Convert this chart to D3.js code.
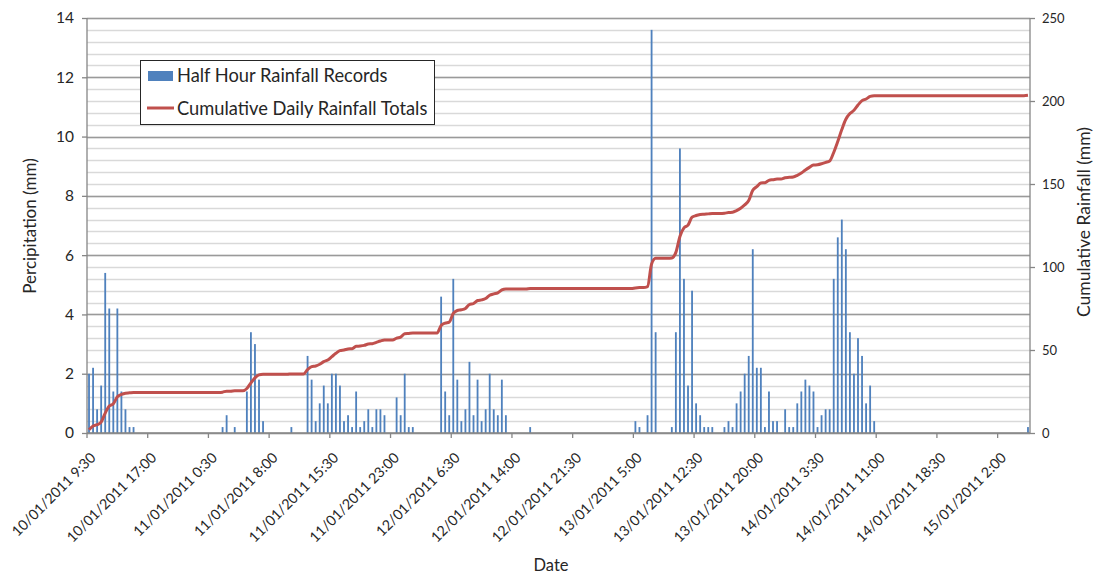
<!DOCTYPE html>
<html><head><meta charset="utf-8">
<script src="https://cdn.jsdelivr.net/npm/d3@7"></script>
<style>
html,body{margin:0;padding:0;background:#fff;}
svg{display:block;font-family:Lato,"Open Sans",sans-serif;}
</style></head><body>
<svg id="chart" width="1094" height="574"></svg>
<script>
// Half-hour rainfall records (mm), one per half hour from 10/01/2011 9:30
const rainfall = [
  2.0,2.2,0.8,1.6,5.4,4.2,1.4,4.2,1.4,0.8,0.2,0.2,0,0,0,
  0,0,0,0,0,0,0,0,0,0,0,0,0,0,0,
  0,0,0,0.2,0.6,0,0.2,0,0,1.4,3.4,3.0,1.8,0.4,0,
  0,0,0,0,0,0.2,0,0,0,2.6,1.8,0.4,1.0,1.6,1.0,
  2.0,2.0,1.6,0.4,0.6,0.2,1.4,0.2,0.4,0.8,0.2,0.8,0.8,0.6,0,
  0,1.2,0.6,2.0,0.2,0.2,0,0,0,0,0,0,4.6,1.4,0.6,
  5.2,1.8,0.4,0.8,2.4,0.6,1.8,0.4,0.8,2.0,0.8,0.6,1.8,0.6,0,
  0,0,0,0,0.2,0,0,0,0,0,0,0,0,0,0,
  0,0,0,0,0,0,0,0,0,0,0,0,0,0,0,
  0.4,0.2,0,0.6,13.6,3.4,0,0,0,0.2,3.4,9.6,5.2,1.6,4.8,
  1.0,0.6,0.2,0.2,0.2,0,0,0.2,0.4,0.2,1.0,1.4,2.0,2.6,6.2,
  2.2,2.2,0.2,1.4,0.4,0.4,0,0.8,0.2,0.2,1.0,1.4,1.8,1.6,1.4,
  0.2,0.6,0.8,0.8,5.2,6.6,7.2,6.2,3.4,2.0,3.2,2.6,1.0,1.6,0.4,
  0,0,0,0,0,0,0,0,0,0,0,0,0,0,0,
  0,0,0,0,0,0,0,0,0,0,0,0,0,0,0,
  0,0,0,0,0,0,0,0.2
];
// Cumulative rainfall totals (mm)
const cumulative = [
  2.0,4.2,5.0,6.6,12.0,16.2,17.6,21.8,23.2,24.0,24.2,24.4,24.4,24.4,24.4,
  24.4,24.4,24.4,24.4,24.4,24.4,24.4,24.4,24.4,24.4,24.4,24.4,24.4,24.4,24.4,
  24.4,24.4,24.4,24.6,25.2,25.2,25.4,25.4,25.4,26.8,30.2,33.2,35.0,35.4,35.4,
  35.4,35.4,35.4,35.4,35.4,35.6,35.6,35.6,35.6,38.2,40.0,40.4,41.4,43.0,44.0,
  46.0,48.0,49.6,50.0,50.6,50.8,52.2,52.4,52.8,53.6,53.8,54.6,55.4,56.0,56.0,
  56.0,57.2,57.8,59.8,60.0,60.2,60.2,60.2,60.2,60.2,60.2,60.2,64.8,66.2,66.8,
  72.0,73.8,74.2,75.0,77.4,78.0,79.8,80.2,81.0,83.0,83.8,84.4,86.2,86.8,86.8,
  86.8,86.8,86.8,86.8,87.0,87.0,87.0,87.0,87.0,87.0,87.0,87.0,87.0,87.0,87.0,
  87.0,87.0,87.0,87.0,87.0,87.0,87.0,87.0,87.0,87.0,87.0,87.0,87.0,87.0,87.0,
  87.4,87.6,87.6,88.2,101.8,105.2,105.2,105.2,105.2,105.4,108.8,118.4,123.6,125.2,130.0,
  131.0,131.6,131.8,132.0,132.2,132.2,132.2,132.4,132.8,133.0,134.0,135.4,137.4,140.0,146.2,
  148.4,150.6,150.8,152.2,152.6,153.0,153.0,153.8,154.0,154.2,155.2,156.6,158.4,160.0,161.4,
  161.6,162.2,163.0,163.8,169.0,175.6,182.8,189.0,192.4,194.4,197.6,200.2,201.2,202.8,203.2,
  203.2,203.2,203.2,203.2,203.2,203.2,203.2,203.2,203.2,203.2,203.2,203.2,203.2,203.2,203.2,
  203.2,203.2,203.2,203.2,203.2,203.2,203.2,203.2,203.2,203.2,203.2,203.2,203.2,203.2,203.2,
  203.2,203.2,203.2,203.2,203.2,203.2,203.2,203.4
];
const tickLabels = ["10/01/2011 9:30","10/01/2011 17:00","11/01/2011 0:30","11/01/2011 8:00",
  "11/01/2011 15:30","11/01/2011 23:00","12/01/2011 6:30","12/01/2011 14:00","12/01/2011 21:30",
  "13/01/2011 5:00","13/01/2011 12:30","13/01/2011 20:00","14/01/2011 3:30","14/01/2011 11:00",
  "14/01/2011 18:30","15/01/2011 2:00"];
const labelInterval = 15;
const leftTicks = [0,2,4,6,8,10,12,14];
const rightTicks = [0,50,100,150,200,250];
const seriesNames = ["Half Hour Rainfall Records","Cumulative Daily Rainfall Totals"];
const titles = {x:"Date", yLeft:"Percipitation (mm)", yRight:"Cumulative Rainfall (mm)"};

const P = {left:87, right:1030, top:18, bottom:433};
const svg = d3.select("#chart");
const n = rainfall.length;
const x = d3.scaleBand().domain(d3.range(n)).range([P.left,P.right]).paddingInner(0.55).paddingOuter(0.275);
const step = x.step();
const yL = d3.scaleLinear().domain([0,14]).range([P.bottom,P.top]);
const yR = d3.scaleLinear().domain([0,250]).range([P.bottom,P.top]);
const axisCol = "#868686";
const textCol = "#262626";
const FONT = "Lato,'Open Sans',sans-serif";

// gridlines
const minor = d3.range(0, 14.001, 0.4);
svg.append("g").selectAll("line").data(minor).join("line")
  .attr("x1",P.left).attr("x2",P.right)
  .attr("y1",d=>Math.round(yL(d))+0.5).attr("y2",d=>Math.round(yL(d))+0.5)
  .attr("stroke","#d9d9d9").attr("stroke-width",1.3);
svg.append("g").selectAll("line").data(leftTicks).join("line")
  .attr("x1",P.left).attr("x2",P.right)
  .attr("y1",d=>Math.round(yL(d))+0.5).attr("y2",d=>Math.round(yL(d))+0.5)
  .attr("stroke","#9a9a9a").attr("stroke-width",1.3);

// bars
svg.append("g").selectAll("rect").data(rainfall.map((v,i)=>({v,i})).filter(d=>d.v>0)).join("rect")
  .attr("x",d=>x(d.i)).attr("width",x.bandwidth())
  .attr("y",d=>yL(d.v)).attr("height",d=>yL(0)-yL(d.v))
  .attr("fill","#4f81bd");

// axes
const gL = svg.append("g").attr("transform",`translate(${P.left},0)`)
  .call(d3.axisLeft(yL).tickValues(leftTicks).tickSize(5).tickPadding(8).tickFormat(d3.format("d")));
const gR = svg.append("g").attr("transform",`translate(${P.right},0)`)
  .call(d3.axisRight(yR).tickValues(rightTicks).tickSize(5).tickPadding(7).tickFormat(d3.format("d")));
const tickIdx = d3.range(0, n, labelInterval);
const gB = svg.append("g").attr("transform",`translate(0,${P.bottom})`)
  .call(d3.axisBottom(x).tickValues(tickIdx).tickSize(5).tickFormat((d,k)=>tickLabels[k]));
[gL,gR,gB].forEach(g=>{
  g.select(".domain").attr("stroke",axisCol).attr("stroke-width",1.3);
  g.selectAll(".tick line").attr("stroke",axisCol).attr("stroke-width",1.3);
  g.selectAll("text").attr("fill",textCol).attr("font-family",FONT);
});
gL.select(".domain").attr("d",`M-0,${P.top}V${P.bottom}`);
gR.select(".domain").attr("d",`M0,${P.top}V${P.bottom}`);
gB.select(".domain").attr("d",`M${P.left},0H${P.right}`);
gL.selectAll("text").attr("font-size",15.5);
gR.selectAll("text").attr("font-size",13);
// bottom ticks at category boundaries, labels rotated
gB.selectAll(".tick").attr("transform",d=>`translate(${x(d)-step*0.275},0)`);
gB.selectAll(".tick line").attr("x1",0).attr("x2",0);
gB.selectAll(".tick text")
  .attr("font-size",14.3).attr("text-anchor","end").attr("dy",null).attr("y",null)
  .attr("dominant-baseline","middle")
  .attr("transform",`translate(${step*0.5+5},23) rotate(-45)`);

// cumulative line
const line = d3.line().x((d,i)=>x(i)+x.bandwidth()/2).y(d=>yR(d)).curve(d3.curveMonotoneX);
svg.append("path").datum(cumulative).attr("d",line)
  .attr("fill","none").attr("stroke","#c0504d").attr("stroke-width",3).attr("stroke-linejoin","round");

// axis titles
svg.append("text").attr("transform",`translate(36,226) rotate(-90)`).attr("text-anchor","middle")
  .attr("font-size",17).attr("fill",textCol).attr("font-family",FONT).text(titles.yLeft);
svg.append("text").attr("transform",`translate(1090,222) rotate(-90)`).attr("text-anchor","middle")
  .attr("font-size",17.5).attr("fill",textCol).attr("font-family",FONT).text(titles.yRight);
svg.append("text").attr("x",551).attr("y",571).attr("text-anchor","middle")
  .attr("font-size",16.5).attr("fill",textCol).attr("font-family",FONT).text(titles.x);

// legend
const lg = svg.append("g");
lg.append("rect").attr("x",140.5).attr("y",60.5).attr("width",294).attr("height",64)
  .attr("fill","#fff").attr("stroke","#262626").attr("stroke-width",1);
lg.append("rect").attr("x",148).attr("y",71).attr("width",25).attr("height",10).attr("fill","#4f81bd");
lg.append("line").attr("x1",147).attr("x2",174).attr("y1",108).attr("y2",108)
  .attr("stroke","#c0504d").attr("stroke-width",3);
lg.append("text").attr("x",177).attr("y",82).attr("font-size",18.3).attr("fill",textCol).attr("font-family",FONT).text(seriesNames[0]);
lg.append("text").attr("x",177).attr("y",114.5).attr("font-size",18.3).attr("fill",textCol).attr("font-family",FONT).text(seriesNames[1]);
</script></body></html>
